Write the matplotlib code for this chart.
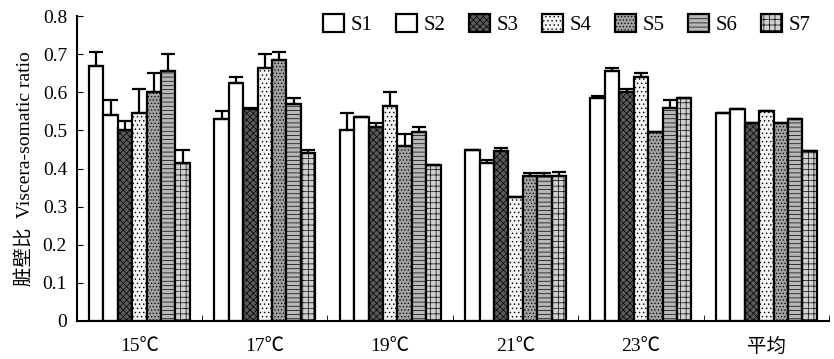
import numpy as np
import matplotlib.pyplot as plt

plt.rcParams['font.family'] = ['Liberation Serif', 'Noto Sans CJK SC']
plt.rcParams['hatch.linewidth'] = 0.5

groups = ['15℃', '17℃', '19℃', '21℃', '23℃', '平均']
series = ['S1', 'S2', 'S3', 'S4', 'S5', 'S6', 'S7']

# mean values per series and group
s1 = [0.67, 0.53, 0.50, 0.45, 0.585, 0.545]
s2 = [0.54, 0.625, 0.535, 0.415, 0.655, 0.555]
s3 = [0.50, 0.555, 0.51, 0.445, 0.60, 0.52]
s4 = [0.545, 0.665, 0.565, 0.325, 0.64, 0.55]
s5 = [0.60, 0.685, 0.46, 0.38, 0.495, 0.52]
s6 = [0.655, 0.57, 0.495, 0.38, 0.56, 0.53]
s7 = [0.415, 0.44, 0.41, 0.38, 0.585, 0.445]

# upper error bars
e1 = [0.035, 0.02, 0.045, 0.0, 0.005, 0.0]
e2 = [0.04, 0.015, 0.0, 0.008, 0.008, 0.0]
e3 = [0.025, 0.005, 0.01, 0.01, 0.01, 0.0]
e4 = [0.065, 0.035, 0.035, 0.0, 0.012, 0.0]
e5 = [0.05, 0.02, 0.03, 0.008, 0.0, 0.0]
e6 = [0.045, 0.015, 0.015, 0.008, 0.02, 0.0]
e7 = [0.035, 0.008, 0.0, 0.01, 0.0, 0.0]

vals = [s1, s2, s3, s4, s5, s6, s7]
errs = [e1, e2, e3, e4, e5, e6, e7]

faces = ['white', 'white', '#5a5a5a', '#f4f4f4', '#a0a0a0', '#b8b8b8', '#d0d0d0']
hatches = ['', '', 'xxxxx', '....', '.....', '----', '+++']

fig = plt.figure(figsize=(8.34, 3.59), dpi=100)
ax = fig.add_axes([0.092, 0.106, 0.902, 0.849])

x = np.arange(len(groups))
w = 0.115
for i in range(7):
    pos = x + (i - 3) * w
    ax.bar(pos, vals[i], w, color=faces[i], edgecolor='black', linewidth=1.6,
           hatch=hatches[i], label=series[i],
           yerr=[np.zeros(6), errs[i]], capsize=5,
           error_kw=dict(ecolor='black', elinewidth=1.6, capthick=1.6))

ax.set_xlim(-0.5, 5.5)
ax.set_ylim(0, 0.8)
ax.set_yticks(np.arange(0, 0.81, 0.1))
ax.set_yticklabels(['0', '0.1', '0.2', '0.3', '0.4', '0.5', '0.6', '0.7', '0.8'])
ax.set_xticks(x)
ax.set_xticklabels(groups)
ax.set_xticks(np.arange(-0.5, 6, 1), minor=True)
ax.tick_params(axis='x', which='major', length=0, pad=12, labelsize=14)
ax.tick_params(axis='x', which='minor', direction='in', length=4)
ax.tick_params(axis='y', direction='in', length=4, labelsize=14, pad=7)
ax.spines['top'].set_visible(False)
ax.spines['right'].set_visible(False)
ax.spines['left'].set_linewidth(1.5)
ax.spines['bottom'].set_linewidth(1.5)
ax.set_ylabel('脏壁比  Viscera-somatic ratio', fontsize=14, labelpad=6)

ax.legend(ncol=7, loc='upper right', bbox_to_anchor=(1.0, 1.07), frameon=False,
          fontsize=15, handlelength=1.0, handleheight=1.0, handletextpad=0.3,
          columnspacing=1.15)

fig.savefig('out.png', dpi=100)
